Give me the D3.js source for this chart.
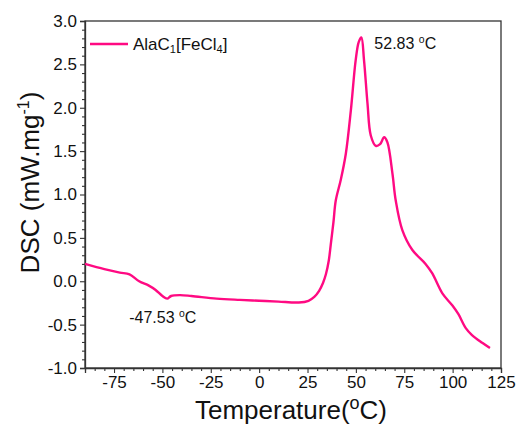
<!DOCTYPE html>
<html>
<head>
<meta charset="utf-8">
<script src="https://cdn.jsdelivr.net/npm/d3@7"></script>
<style>
  html, body { margin: 0; padding: 0; background: #fff; }
  svg { display: block; font-family: "Liberation Sans", Arial, sans-serif; }
</style>
</head>
<body>
<svg id="chart" width="521" height="428"></svg>
<script>
// DSC trace of AlaC1[FeCl4]: temperature (°C) and heat flow (mW/mg)
const temperature = [-90, -80, -72, -67, -62, -57, -53.5, -50, -47.53, -45.5, -41, -35, -22, -10, 0, 10, 20.5, 25.5, 28.5, 31, 33, 34.5, 36, 37, 38.4, 39.6, 42.2, 44.8, 47.4, 49.9, 51.5, 52.83, 54.2, 56, 57.7, 60.3, 62.5, 64.6, 66.3, 68.9, 70.6, 74, 79.2, 86, 89.5, 94.7, 99.9, 103, 106.8, 110, 115.3, 119.3];
const dsc = [0.20, 0.14, 0.10, 0.08, 0.00, -0.05, -0.10, -0.17, -0.20, -0.17, -0.16, -0.17, -0.20, -0.215, -0.225, -0.235, -0.245, -0.225, -0.18, -0.11, -0.02, 0.08, 0.24, 0.42, 0.68, 0.93, 1.17, 1.47, 1.97, 2.55, 2.76, 2.81, 2.55, 2.05, 1.68, 1.56, 1.58, 1.66, 1.60, 1.24, 0.93, 0.59, 0.36, 0.20, 0.09, -0.14, -0.28, -0.38, -0.54, -0.62, -0.71, -0.77];

const xTicks = [-75, -50, -25, 0, 25, 50, 75, 100, 125];
const yTicks = [-1.0, -0.5, 0.0, 0.5, 1.0, 1.5, 2.0, 2.5, 3.0];
const xDomain = [-90, 125];
const yDomain = [-1.0, 3.0];
const peakLabel = "52.83";
const dipLabel = "-47.53";
const lineColor = "#ff0a82";
const FONT = "'Liberation Sans', Arial, sans-serif";

const margin = { left: 85, right: 20, top: 21, bottom: 60 };
const W = 521, H = 428;
const svg = d3.select("#chart");

const x = d3.scaleLinear().domain(xDomain).range([margin.left, W - margin.right]);
const y = d3.scaleLinear().domain(yDomain).range([H - margin.bottom, margin.top]);

// frame
svg.append("rect")
  .attr("x", x.range()[0]).attr("y", y.range()[1])
  .attr("width", x.range()[1] - x.range()[0])
  .attr("height", y.range()[0] - y.range()[1])
  .attr("fill", "none").attr("stroke", "#333").attr("stroke-width", 1.3);

// minor ticks
const xMinor = d3.range(-90, 125.01, 5).filter(v => !xTicks.includes(v));
const yMinor = d3.range(-1.0, 3.001, 0.1).map(v => +v.toFixed(1)).filter(v => !yTicks.includes(v));

svg.append("g")
  .attr("transform", `translate(0,${y.range()[0]})`)
  .call(d3.axisBottom(x).tickValues(xTicks).tickSize(5).tickPadding(3).tickFormat(d3.format("d")));
svg.append("g")
  .attr("transform", `translate(0,${y.range()[0]})`)
  .call(d3.axisBottom(x).tickValues(xMinor).tickSize(3).tickFormat(""))
  .call(g => g.select(".domain").remove());

svg.append("g")
  .attr("transform", `translate(${x.range()[0]},0)`)
  .call(d3.axisLeft(y).tickValues(yTicks).tickSize(5).tickPadding(3).tickFormat(d3.format(".1f")));
svg.append("g")
  .attr("transform", `translate(${x.range()[0]},0)`)
  .call(d3.axisLeft(y).tickValues(yMinor).tickSize(3).tickFormat(""))
  .call(g => g.select(".domain").remove());

svg.selectAll("g").attr("font-family", FONT);
svg.selectAll(".tick line").attr("stroke", "#333").attr("stroke-width", 1.1);
svg.selectAll(".domain").attr("stroke", "#333").attr("stroke-width", 1.3);
svg.selectAll(".tick text")
  .attr("font-family", FONT)
  .attr("font-size", 17).attr("fill", "#111")
  .text(function() { return d3.select(this).text().replace("−", "-"); });

// curve
const pts = temperature.map((t, i) => [t, dsc[i]]);
svg.append("path")
  .datum(pts)
  .attr("fill", "none")
  .attr("stroke", lineColor)
  .attr("stroke-width", 2.4)
  .attr("stroke-linejoin", "round")
  .attr("d", d3.line().x(d => x(d[0])).y(d => y(d[1])).curve(d3.curveCatmullRom.alpha(0.5)));

// legend
svg.append("line")
  .attr("x1", 90).attr("x2", 128).attr("y1", 44).attr("y2", 44)
  .attr("stroke", lineColor).attr("stroke-width", 2.4);
const leg = svg.append("text").attr("x", 133).attr("y", 50)
  .attr("font-family", FONT).attr("font-size", 17).attr("fill", "#111");
leg.append("tspan").text("AlaC");
leg.append("tspan").text("1").attr("font-size", 11).attr("dy", 3);
leg.append("tspan").text("[FeCl").attr("dy", -3);
leg.append("tspan").text("4").attr("font-size", 11).attr("dy", 3);
leg.append("tspan").text("]").attr("dy", -3);

// annotations
function degLabel(px, py, value, size) {
  const t = svg.append("text").attr("x", px).attr("y", py)
    .attr("font-family", FONT).attr("font-size", size).attr("fill", "#111");
  t.append("tspan").text(value + " ");
  t.append("tspan").text("o").attr("font-size", size * 0.65).attr("dy", -size * 0.4);
  t.append("tspan").text("C").attr("dy", size * 0.4);
  return t;
}
degLabel(x(52.83) + 13, 49, peakLabel, 16);
degLabel(x(-47.53) - 38, 323, dipLabel, 16);

// axis titles
const xt = svg.append("text")
  .attr("x", (x.range()[0] + x.range()[1]) / 2 - 2).attr("y", 419)
  .attr("text-anchor", "middle").attr("font-family", FONT).attr("font-size", 26).attr("fill", "#111");
xt.append("tspan").text("Temperature(");
xt.append("tspan").text("o").attr("font-size", 18).attr("dy", -10);
xt.append("tspan").text("C)").attr("dy", 10);

const yt = svg.append("text")
  .attr("transform", `translate(39,${(y.range()[0] + y.range()[1]) / 2 - 12}) rotate(-90)`)
  .attr("text-anchor", "middle").attr("font-family", FONT).attr("font-size", 26).attr("fill", "#111");
yt.append("tspan").text("DSC (mW.mg");
yt.append("tspan").text("-1").attr("font-size", 16).attr("dy", -10);
yt.append("tspan").text(")").attr("dy", 10);
</script>
</body>
</html>
